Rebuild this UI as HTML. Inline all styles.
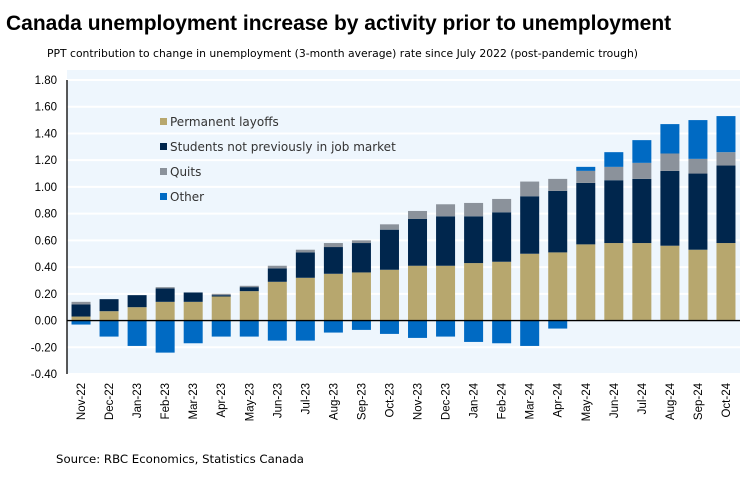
<!DOCTYPE html>
<html><head><meta charset="utf-8"><style>
body{margin:0;background:#fff;width:751px;height:474px;overflow:hidden;font-family:"Liberation Sans",sans-serif}
</style></head><body>
<svg width="751" height="474" xmlns="http://www.w3.org/2000/svg">
<text x="6" y="30" font-size="21" font-weight="bold" fill="#000">Canada unemployment increase by activity prior to unemployment</text>
<text x="47" y="57" font-size="10.9" font-family="DejaVu Sans, sans-serif" fill="#000" textLength="591" lengthAdjust="spacingAndGlyphs">PPT contribution to change in unemployment (3-month average) rate since July 2022 (post-pandemic trough)</text>
<rect x="67" y="70" width="673" height="304" fill="#eef6fd"/>
<g id="grid"></g><g id="bars"></g>
<g id="legend" font-size="12" font-family="DejaVu Sans, sans-serif" fill="#333"></g>
<text x="56" y="463" font-size="11.5" font-family="DejaVu Sans, sans-serif" fill="#000" textLength="248" lengthAdjust="spacingAndGlyphs">Source: RBC Economics, Statistics Canada</text>
</svg>
<script>
const categories=["Nov-22","Dec-22","Jan-23","Feb-23","Mar-23","Apr-23","May-23","Jun-23","Jul-23","Aug-23","Sep-23","Oct-23","Nov-23","Dec-23","Jan-24","Feb-24","Mar-24","Apr-24","May-24","Jun-24","Jul-24","Aug-24","Sep-24","Oct-24"];
const permanent=[0.03,0.07,0.10,0.14,0.14,0.18,0.22,0.29,0.32,0.35,0.36,0.38,0.41,0.41,0.43,0.44,0.50,0.51,0.57,0.58,0.58,0.56,0.53,0.58];
const students=[0.09,0.09,0.09,0.10,0.07,0.01,0.03,0.10,0.19,0.20,0.22,0.30,0.35,0.37,0.35,0.37,0.43,0.46,0.46,0.47,0.48,0.56,0.57,0.58];
const quits=[0.02,0,0,0.01,0,0.01,0.01,0.02,0.02,0.03,0.02,0.04,0.06,0.09,0.10,0.10,0.11,0.09,0.09,0.10,0.12,0.13,0.11,0.10];
const other=[-0.03,-0.12,-0.19,-0.24,-0.17,-0.12,-0.12,-0.15,-0.15,-0.09,-0.07,-0.10,-0.13,-0.12,-0.16,-0.17,-0.19,-0.06,0.03,0.11,0.17,0.22,0.29,0.27];
const yTicks=[1.8,1.6,1.4,1.2,1.0,0.8,0.6,0.4,0.2,0,-0.2,-0.4];
const seriesNames=["Permanent layoffs","Students not previously in job market","Quits","Other"];
const colors=["#b7a76e","#00264d","#8b929b","#006ac3"];
const NS="http://www.w3.org/2000/svg";
const y0=80,y1=374,vmax=1.8,vmin=-0.4,xL=67,xR=740;
function Y(v){return y0+(vmax-v)/(vmax-vmin)*(y1-y0);}
const step=(xR-xL)/categories.length;
function X(i){return xL+step*(i+0.5);}
function mk(tag,attrs,parent){const e=document.createElementNS(NS,tag);for(const k in attrs)e.setAttribute(k,attrs[k]);parent.appendChild(e);return e;}
const grid=document.getElementById('grid'),bars=document.getElementById('bars'),svg=document.querySelector('svg');
yTicks.forEach(t=>{
  if(t!==0){const l=mk('line',{x1:xL,x2:xR,y1:Y(t),y2:Y(t),stroke:'#fff','stroke-width':2},grid);
  
  }
  const tx=mk('text',{x:57,y:Y(t)+4,'font-size':11.5,'text-anchor':'end',fill:'#000'},grid);
  tx.textContent=t.toFixed(2);
  
  
});
const series=[permanent,students,quits,other];
categories.forEach((c,i)=>{
  let pos=0,neg=0;
  series.forEach((s,k)=>{
    const v=s[i];if(!v)return;
    let a,b;
    if(v>0){a=pos;b=pos+v;pos=b;}else{a=neg;b=neg+v;neg=b;}
    const r=mk('rect',{x:X(i)-9.5,width:19,y:Y(Math.max(a,b)),height:Math.abs(Y(a)-Y(b)),fill:colors[k]},bars);
    
    
  });
  const t=mk('text',{transform:`translate(${X(i)+4},383) rotate(-90)`,'font-size':11.5,'text-anchor':'end',fill:'#000'},bars);
  t.textContent=c;
  
  
});
const zl=mk('line',{x1:xL,x2:xR,y1:Y(0),y2:Y(0),stroke:'#000','stroke-width':1.3},svg);


const ax=mk('line',{x1:xL,x2:xL,y1:y0,y2:y1,stroke:'#000','stroke-width':1.3},svg);


const lg=document.getElementById('legend');
seriesNames.forEach((n,k)=>{
  const yy=126+k*25;
  const g=mk('g',{},lg);
  
  
  mk('rect',{x:160,y:yy-8,width:7,height:7,fill:colors[k]},g);
  const t=mk('text',{x:170,y:yy},g);t.textContent=n;
});
</script>
</body></html>
